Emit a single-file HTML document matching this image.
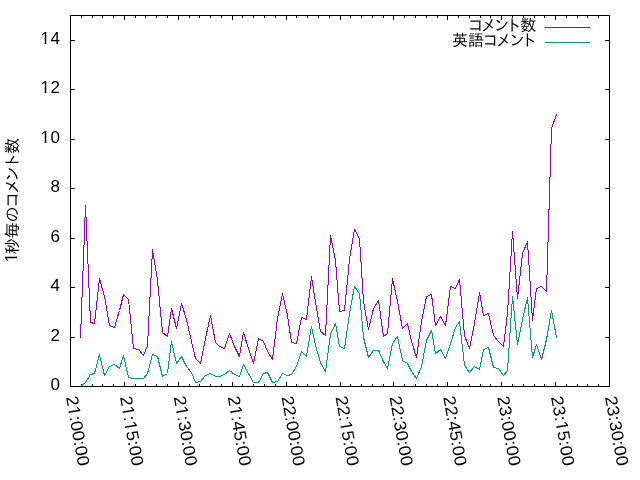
<!DOCTYPE html>
<html lang="ja"><head><meta charset="utf-8"><title>1秒毎のコメント数</title>
<style>html,body{margin:0;padding:0;background:#fff}body{width:640px;height:480px;overflow:hidden}svg{display:block}.n{font-family:"Liberation Sans","IPAGothic",sans-serif;font-size:17px;fill:#000}.j{font-family:"Liberation Sans","IPAGothic",sans-serif;font-size:16px;fill:#000}</style></head><body>
<svg width="640" height="480" viewBox="0 0 640 480">
<rect x="0" y="0" width="640" height="480" fill="#fff"/>
<g shape-rendering="crispEdges" fill="none" stroke-width="1" stroke-linejoin="round">
<path stroke="#000" d="M81.5,386v-2M81.5,16v2M92.5,386v-2M92.5,16v2M102.5,386v-2M102.5,16v2M113.5,386v-2M113.5,16v2M124.5,386v-4M124.5,16v4M135.5,386v-2M135.5,16v2M145.5,386v-2M145.5,16v2M156.5,386v-2M156.5,16v2M167.5,386v-2M167.5,16v2M178.5,386v-4M178.5,16v4M189.5,386v-2M189.5,16v2M199.5,386v-2M199.5,16v2M210.5,386v-2M210.5,16v2M221.5,386v-2M221.5,16v2M232.5,386v-4M232.5,16v4M242.5,386v-2M242.5,16v2M253.5,386v-2M253.5,16v2M264.5,386v-2M264.5,16v2M275.5,386v-2M275.5,16v2M286.5,386v-4M286.5,16v4M296.5,386v-2M296.5,16v2M307.5,386v-2M307.5,16v2M318.5,386v-2M318.5,16v2M329.5,386v-2M329.5,16v2M340.5,386v-4M340.5,16v4M350.5,386v-2M350.5,16v2M361.5,386v-2M361.5,16v2M372.5,386v-2M372.5,16v2M383.5,386v-2M383.5,16v2M393.5,386v-4M393.5,16v4M404.5,386v-2M404.5,16v2M415.5,386v-2M415.5,16v2M426.5,386v-2M426.5,16v2M437.5,386v-2M437.5,16v2M447.5,386v-4M447.5,16v4M458.5,386v-2M458.5,16v2M469.5,386v-2M469.5,16v2M480.5,386v-2M480.5,16v2M490.5,386v-2M490.5,16v2M501.5,386v-4M501.5,16v4M512.5,386v-2M512.5,16v2M523.5,386v-2M523.5,16v2M534.5,386v-2M534.5,16v2M544.5,386v-2M544.5,16v2M555.5,386v-4M555.5,16v4M566.5,386v-2M566.5,16v2M577.5,386v-2M577.5,16v2M587.5,386v-2M587.5,16v2M598.5,386v-2M598.5,16v2M71,337.5h4M609,337.5h-4M71,287.5h4M609,287.5h-4M71,238.5h4M609,238.5h-4M71,188.5h4M609,188.5h-4M71,139.5h4M609,139.5h-4M71,89.5h4M609,89.5h-4M71,40.5h4M609,40.5h-4"/>
<polyline stroke-linecap="square" stroke="#9400d3" points="80.5,337.5 85.5,205.5 90.5,322.5 94.5,323.5 99.5,278.5 104.5,296.5 109.5,325.5 114.5,327.5 119.5,310.5 123.5,294.5 128.5,299.5 133.5,348.5 138.5,349.5 143.5,355.5 147.5,345.5 152.5,249.5 157.5,280.5 162.5,332.5 167.5,336.5 171.5,308.5 176.5,328.5 181.5,303.5 186.5,319.5 191.5,341.5 195.5,358.5 200.5,363.5 205.5,338.5 210.5,315.5 215.5,342.5 219.5,346.5 224.5,348.5 229.5,333.5 234.5,346.5 239.5,356.5 243.5,332.5 248.5,348.5 253.5,363.5 258.5,338.5 263.5,341.5 267.5,351.5 272.5,359.5 277.5,318.5 282.5,293.5 287.5,315.5 291.5,342.5 296.5,343.5 301.5,317.5 306.5,319.5 311.5,276.5 315.5,302.5 320.5,331.5 325.5,335.5 330.5,235.5 335.5,260.5 339.5,311.5 344.5,310.5 349.5,259.5 354.5,229.5 359.5,238.5 363.5,301.5 368.5,329.5 373.5,308.5 378.5,300.5 383.5,336.5 387.5,333.5 392.5,278.5 397.5,301.5 402.5,328.5 407.5,323.5 411.5,341.5 416.5,357.5 421.5,321.5 426.5,296.5 431.5,294.5 435.5,325.5 440.5,316.5 445.5,325.5 450.5,286.5 455.5,288.5 459.5,279.5 464.5,335.5 469.5,348.5 474.5,323.5 479.5,292.5 483.5,315.5 488.5,313.5 493.5,335.5 498.5,341.5 503.5,346.5 507.5,313.5 512.5,231.5 517.5,298.5 522.5,253.5 527.5,241.5 532.5,320.5 536.5,288.5 541.5,286.5 546.5,291.5 551.5,128.5 556.5,114.5"/>
<polyline stroke-linecap="square" stroke="#009e73" points="80.5,386.5 85.5,382.5 90.5,374.5 94.5,373.5 99.5,354.5 104.5,375.5 109.5,366.5 114.5,364.5 119.5,368.5 123.5,355.5 128.5,377.5 133.5,378.5 138.5,378.5 143.5,378.5 147.5,373.5 152.5,354.5 157.5,356.5 162.5,376.5 167.5,373.5 171.5,341.5 176.5,363.5 181.5,356.5 186.5,366.5 191.5,372.5 195.5,382.5 200.5,381.5 205.5,375.5 210.5,373.5 215.5,376.5 219.5,376.5 224.5,374.5 229.5,370.5 234.5,374.5 239.5,376.5 243.5,364.5 248.5,373.5 253.5,382.5 258.5,382.5 263.5,373.5 267.5,372.5 272.5,382.5 277.5,381.5 282.5,373.5 287.5,375.5 291.5,374.5 296.5,366.5 301.5,351.5 306.5,356.5 311.5,326.5 315.5,345.5 320.5,362.5 325.5,371.5 330.5,334.5 335.5,323.5 339.5,346.5 344.5,348.5 349.5,313.5 354.5,286.5 359.5,293.5 363.5,337.5 368.5,357.5 373.5,350.5 378.5,350.5 383.5,361.5 387.5,368.5 392.5,343.5 397.5,336.5 402.5,360.5 407.5,363.5 411.5,371.5 416.5,378.5 421.5,366.5 426.5,340.5 431.5,330.5 435.5,353.5 440.5,349.5 445.5,358.5 450.5,343.5 455.5,327.5 459.5,321.5 464.5,365.5 469.5,372.5 474.5,366.5 479.5,369.5 483.5,349.5 488.5,347.5 493.5,367.5 498.5,368.5 503.5,375.5 507.5,370.5 512.5,296.5 517.5,344.5 522.5,319.5 527.5,297.5 532.5,357.5 536.5,344.5 541.5,359.5 546.5,339.5 551.5,310.5 556.5,337.5"/>
<rect stroke="#000" x="70.5" y="15.5" width="539" height="371"/>
<path stroke="#9400d3" d="M545,27.5H590"/><path stroke="#009e73" d="M545,42.5H590"/>
</g>
<text class="n" transform="translate(50.52,389.9)" x="0.00">0</text>
<text class="n" transform="translate(50.52,340.9)" x="0.00">2</text>
<text class="n" transform="translate(50.52,290.9)" x="0.00">4</text>
<text class="n" transform="translate(50.52,241.9)" x="0.00">6</text>
<text class="n" transform="translate(50.52,191.9)" x="0.00">8</text>
<text class="n" transform="translate(40.44,142.9)" clip-path="url(#c0)" x="0.00 10.08">10</text>
<text class="n" transform="translate(40.44,92.9)" clip-path="url(#c1)" x="0.00 10.08">12</text>
<text class="n" transform="translate(40.44,43.9)" clip-path="url(#c2)" x="0.00 10.08">14</text>
<text class="n" transform="translate(66.0,397.1) rotate(80) scale(1.067,1)" clip-path="url(#c3)">21:00:00</text>
<text class="n" transform="translate(119.9,397.1) rotate(80) scale(1.067,1)" clip-path="url(#c4)">21:15:00</text>
<text class="n" transform="translate(173.8,397.1) rotate(80) scale(1.067,1)" clip-path="url(#c5)">21:30:00</text>
<text class="n" transform="translate(227.7,397.1) rotate(80) scale(1.067,1)" clip-path="url(#c6)">21:45:00</text>
<text class="n" transform="translate(281.6,397.1) rotate(80) scale(1.067,1)">22:00:00</text>
<text class="n" transform="translate(335.5,397.1) rotate(80) scale(1.067,1)" clip-path="url(#c7)">22:15:00</text>
<text class="n" transform="translate(389.4,397.1) rotate(80) scale(1.067,1)">22:30:00</text>
<text class="n" transform="translate(443.3,397.1) rotate(80) scale(1.067,1)">22:45:00</text>
<text class="n" transform="translate(497.2,397.1) rotate(80) scale(1.067,1)">23:00:00</text>
<text class="n" transform="translate(551.1,397.1) rotate(80) scale(1.067,1)" clip-path="url(#c8)">23:15:00</text>
<text class="n" transform="translate(605.0,397.1) rotate(80) scale(1.067,1)">23:30:00</text>
<text class="j" y="31.2" x="467.80 480.80 493.60 505.76 520.20">コメント数</text>
<text class="j" y="46.3" x="451.90 467.90 482.50 495.80 509.00 521.10">英語コメント</text>
<g transform="translate(17.9,254.2) rotate(-90)"><text class="n" transform="translate(-8.2,-1.1) scale(1.003,0.94)" clip-path="url(#c9)">1</text><text class="j" y="0" x="0.00 16.00 31.68 46.55 59.84 72.16 85.42 100.46">秒毎のコメント数</text></g>
<defs><clipPath id="c0"><path clip-rule="evenodd" d="M-20,-30H120V12H-20ZM0.69,-2.27H4.12V0.80H0.69Z M5.93,-2.27H9.22V0.80H5.93Z"/></clipPath><clipPath id="c1"><path clip-rule="evenodd" d="M-20,-30H120V12H-20ZM0.69,-2.27H4.12V0.80H0.69Z M5.93,-2.27H9.22V0.80H5.93Z"/></clipPath><clipPath id="c2"><path clip-rule="evenodd" d="M-20,-30H120V12H-20ZM0.69,-2.27H4.12V0.80H0.69Z M5.93,-2.27H9.22V0.80H5.93Z"/></clipPath><clipPath id="c3"><path clip-rule="evenodd" d="M-20,-30H120V12H-20ZM10.15,-2.27H13.58V0.80H10.15Z M15.38,-2.27H18.68V0.80H15.38Z"/></clipPath><clipPath id="c4"><path clip-rule="evenodd" d="M-20,-30H120V12H-20ZM10.15,-2.27H13.58V0.80H10.15Z M15.38,-2.27H18.68V0.80H15.38ZM24.33,-2.27H27.76V0.80H24.33Z M29.56,-2.27H32.86V0.80H29.56Z"/></clipPath><clipPath id="c5"><path clip-rule="evenodd" d="M-20,-30H120V12H-20ZM10.15,-2.27H13.58V0.80H10.15Z M15.38,-2.27H18.68V0.80H15.38Z"/></clipPath><clipPath id="c6"><path clip-rule="evenodd" d="M-20,-30H120V12H-20ZM10.15,-2.27H13.58V0.80H10.15Z M15.38,-2.27H18.68V0.80H15.38Z"/></clipPath><clipPath id="c7"><path clip-rule="evenodd" d="M-20,-30H120V12H-20ZM24.33,-2.27H27.76V0.80H24.33Z M29.56,-2.27H32.86V0.80H29.56Z"/></clipPath><clipPath id="c8"><path clip-rule="evenodd" d="M-20,-30H120V12H-20ZM24.33,-2.27H27.76V0.80H24.33Z M29.56,-2.27H32.86V0.80H29.56Z"/></clipPath><clipPath id="c9"><path clip-rule="evenodd" d="M-20,-30H120V12H-20ZM0.69,-2.27H4.12V0.80H0.69Z M5.93,-2.27H9.22V0.80H5.93Z"/></clipPath></defs>
</svg></body></html>
